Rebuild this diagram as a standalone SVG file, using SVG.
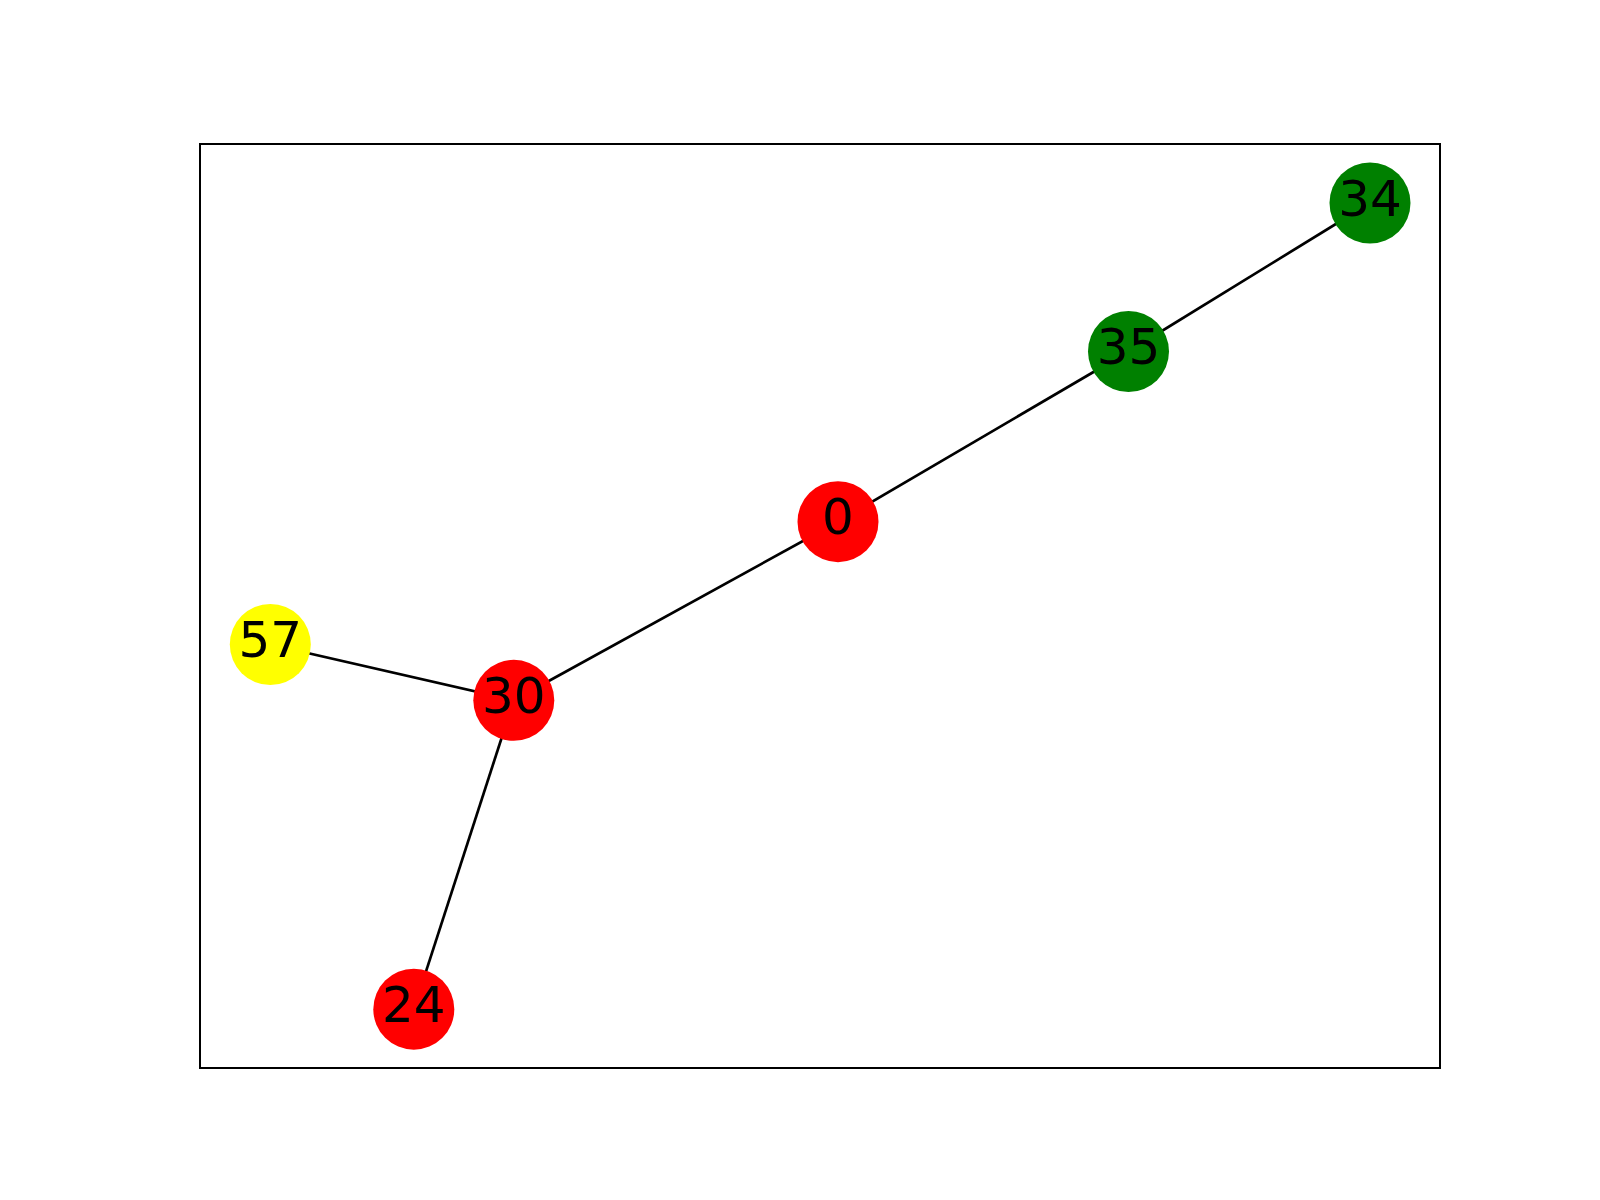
<svg xmlns="http://www.w3.org/2000/svg" width="1600" height="1200" viewBox="0 0 1600 1200">
<style>
.lbl{font-family:"DejaVu Sans",sans-serif;font-size:50px;fill:#000;text-anchor:middle}
.edge{stroke:#000;stroke-width:2.7;fill:none}
</style>
<rect width="1600" height="1200" fill="#fff"/>
<rect x="200" y="144" width="1240" height="924" fill="none" stroke="#000" stroke-width="2"/>
<g id="edges">
<line class="edge" x1="1370" y1="203" x2="1128.5" y2="351.5"/>
<line class="edge" x1="1128.5" y1="351.5" x2="838" y2="521.7"/>
<line class="edge" x1="838" y1="521.7" x2="513.8" y2="700.3"/>
<line class="edge" x1="513.8" y1="700.3" x2="270.3" y2="644.5"/>
<line class="edge" x1="513.8" y1="700.3" x2="413.8" y2="1009.2"/>
</g>
<g id="n34"><circle cx="1370" cy="203" r="40.5" fill="#008000"/><text class="lbl" x="1370" y="215.6">34</text></g>
<g id="n35"><circle cx="1128.5" cy="351.5" r="40.5" fill="#008000"/><text class="lbl" x="1128.5" y="364.1">35</text></g>
<g id="n0"><circle cx="838" cy="521.7" r="40.5" fill="#ff0000"/><text class="lbl" x="838" y="534.3">0</text></g>
<g id="n57"><circle cx="270.3" cy="644.5" r="40.5" fill="#ffff00"/><text class="lbl" x="270.3" y="657.1">57</text></g>
<g id="n30"><circle cx="513.8" cy="700.3" r="40.5" fill="#ff0000"/><text class="lbl" x="513.8" y="712.9">30</text></g>
<g id="n24"><circle cx="413.8" cy="1009.2" r="40.5" fill="#ff0000"/><text class="lbl" x="413.8" y="1021.8">24</text></g>
</svg>
